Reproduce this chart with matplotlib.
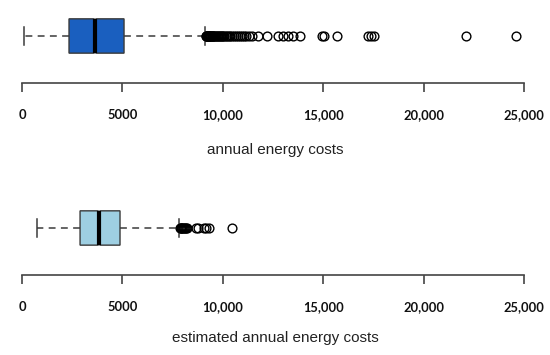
import matplotlib
matplotlib.use("Agg")
import matplotlib.pyplot as plt

# box statistics
actual = dict(whislo=100, q1=2340, med=3635, q3=5080, whishi=9110,
              cilo=3585, cihi=3685)
actual_fliers = [9150, 9170, 9190, 9210, 9230, 9250, 9270, 9290, 9310, 9330,
                 9350, 9380, 9410, 9440, 9470, 9500, 9530, 9570, 9610, 9650,
                 9700, 9750, 9800, 9850, 9900, 9960, 10020, 10080, 10150,
                 10220, 10300, 10380, 10450, 10550, 10650, 10750, 10850,
                 10950, 11050, 11150, 11300, 11450, 11750, 12200, 12750,
                 12980, 13230, 13480, 13830, 14950, 15020, 15700, 17250,
                 17400, 17520, 22100, 24600]

estimated = dict(whislo=765, q1=2890, med=3835, q3=4880, whishi=7820,
                 cilo=3785, cihi=3885)
estimated_fliers = [7860, 7900, 7940, 7980, 8020, 8060, 8110, 8160, 8220,
                    8650, 8750, 9050, 9150, 9300, 10460]

ticks = [0, 5000, 10000, 15000, 20000, 25000]
tick_labels = ["0", "5000", "10,000", "15,000", "20,000", "25,000"]

W, H = 550, 355
fig = plt.figure(figsize=(W / 100, H / 100), dpi=100)
POS, WID = 0.644, 0.47


def draw(top_px, axis_px, stats, fliers, color, label, label_px):
    ax = fig.add_axes([12 / W, 1 - axis_px / H, 522 / W, (axis_px - top_px) / H])
    st = dict(stats)
    st["fliers"] = fliers
    ax.bxp([st], positions=[POS], widths=[WID], vert=False,
           shownotches=True, patch_artist=True,
           boxprops=dict(facecolor=color, edgecolor="#3a3a3a", linewidth=1.0),
           medianprops=dict(linewidth=0),
           whiskerprops=dict(color="#3a3a3a", linewidth=1.1, linestyle=(0, (4.5, 3.5))),
           capprops=dict(color="#3a3a3a", linewidth=1.1),
           flierprops=dict(marker="o", markersize=6.3, markerfacecolor="none",
                           markeredgecolor="black", markeredgewidth=1.0,
                           clip_on=False))
    # thick median across the full box
    ax.plot([stats["med"], stats["med"]], [POS - WID / 2, POS + WID / 2],
            color="black", linewidth=3, solid_capstyle="butt", zorder=3)
    ax.set_xlim(-500, 25500)
    ax.set_ylim(0, 1)
    for s in ["top", "right", "left"]:
        ax.spines[s].set_visible(False)
    ax.spines["bottom"].set_bounds(0, 25000)
    ax.spines["bottom"].set_color("#444444")
    ax.spines["bottom"].set_linewidth(1.2)
    ax.set_yticks([])
    ax.set_xticks(ticks)
    ax.set_xticklabels(tick_labels, fontfamily="Lato", fontweight="bold",
                       fontsize=9.3, color="#111111")
    ax.tick_params(axis="x", direction="out", length=6.5, width=1.2,
                   color="#444444", pad=12.5)
    ax.patch.set_alpha(0)
    fig.text(275 / W, 1 - label_px / H, label, ha="center", va="center",
             fontfamily="Liberation Sans", fontsize=11, color="#222222")


draw(10, 83, actual, actual_fliers, "#1a5fbf", "annual energy costs", 150)
draw(202, 275, estimated, estimated_fliers, "#9ecfe2",
     "estimated annual energy costs", 338)

fig.savefig("out.png", dpi=100)
